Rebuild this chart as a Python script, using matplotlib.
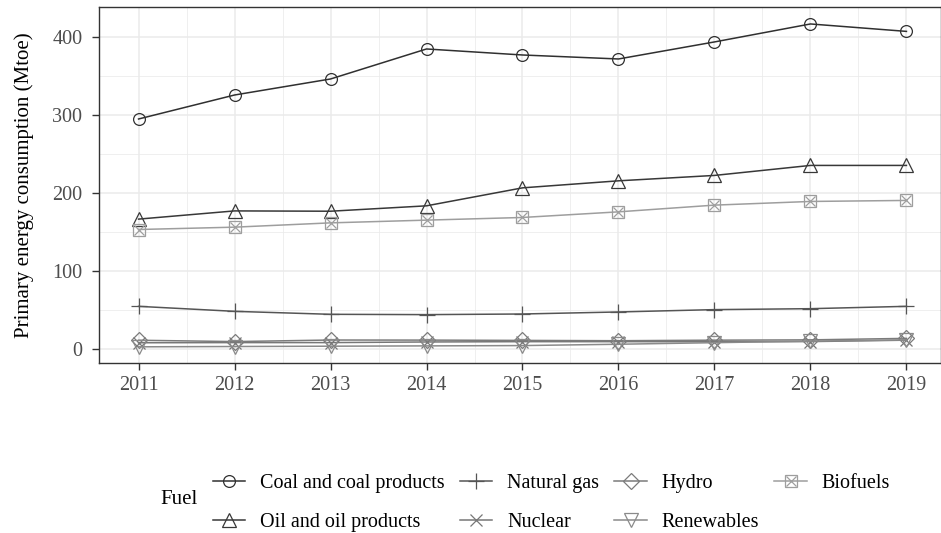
import numpy as np
import matplotlib.pyplot as plt
from matplotlib.lines import Line2D
from matplotlib.ticker import MultipleLocator

plt.rcParams['font.family'] = ['Liberation Serif', 'DejaVu Serif']

# Primary energy consumption by fuel (Mtoe)
years = [2011, 2012, 2013, 2014, 2015, 2016, 2017, 2018, 2019]
coal = [294.7, 325.4, 345.9, 384.3, 376.6, 371.5, 393.3, 416.3, 406.8]
oil = [166.6, 177.1, 176.7, 183.6, 206.6, 215.6, 222.5, 235.3, 235.3]
natural_gas = [55.0, 48.6, 44.8, 44.4, 45.2, 47.8, 50.8, 52.0, 55.0]
nuclear = [8.4, 8.6, 8.6, 9.4, 9.8, 9.8, 9.7, 9.9, 11.7]
hydro = [11.6, 9.9, 11.9, 11.8, 11.4, 11.0, 11.7, 12.1, 14.0]
renewables = [3.2, 3.6, 4.0, 4.4, 4.8, 6.5, 8.5, 10.5, 12.0]
biofuels = [153.3, 156.3, 161.8, 165.3, 168.7, 175.9, 184.5, 189.2, 190.5]

fig = plt.figure(figsize=(9.41, 5.33), dpi=100)
ax = fig.add_axes([99 / 941, 170 / 533, 842 / 941, 356 / 533])

mk = dict(markerfacecolor='none', markeredgewidth=0.9, linewidth=1.1)
h_coal, = ax.plot(years, coal, color='#303030', marker='o', markersize=8.5, **mk)
h_oil, = ax.plot(years, oil, color='#383838', marker='^', markersize=9.5, **mk)
h_gas, = ax.plot(years, natural_gas, color='#555555', marker='+', markersize=12, **mk)
h_nuc, = ax.plot(years, nuclear, color='#777777', marker='x', markersize=8, **mk)
h_hyd, = ax.plot(years, hydro, color='#7b7b7b', marker='D', markersize=8.5, **mk)
h_ren, = ax.plot(years, renewables, color='#8a8a8a', marker='v', markersize=9.5, **mk)
h_bio_sq, = ax.plot(years, biofuels, color='#9e9e9e', marker='s', markersize=8, **mk)
h_bio_x, = ax.plot(years, biofuels, color='#9e9e9e', marker='x', markersize=7,
                   linestyle='none', markeredgewidth=0.9)

ax.set_xlim(2010.588, 2019.36)
ax.set_ylim(-17.5, 438)
ax.xaxis.set_major_locator(MultipleLocator(1))
ax.xaxis.set_minor_locator(MultipleLocator(0.5))
ax.yaxis.set_major_locator(MultipleLocator(100))
ax.yaxis.set_minor_locator(MultipleLocator(50))
ax.grid(which='major', color='#ebebeb', linewidth=1.1)
ax.grid(which='minor', color='#ebebeb', linewidth=0.55)
ax.set_axisbelow(True)
ax.tick_params(which='major', length=5, width=1.0, color='#333333',
               labelsize=14.5, labelcolor='#4d4d4d', pad=4)
ax.tick_params(axis='y', pad=7)
ax.tick_params(which='minor', length=0)
for s in ax.spines.values():
    s.set_color('#333333')
    s.set_linewidth(1.0)
ax.set_ylabel('Primary energy consumption (Mtoe)', fontsize=15, labelpad=13)

handles = [h_coal, h_oil, h_gas, h_nuc, h_hyd, h_ren, (h_bio_sq, h_bio_x)]
labels = ['Coal and coal products', 'Oil and oil products', 'Natural gas',
          'Nuclear', 'Hydro', 'Renewables', 'Biofuels']
fig.legend(handles, labels, ncol=4, loc='center left',
           bbox_to_anchor=(213 / 941, 1 - 503 / 533), frameon=False,
           fontsize=14.5, handlelength=1.6, handletextpad=0.75,
           columnspacing=0.75, labelspacing=0.95, borderaxespad=0,
           borderpad=0)
fig.text(160 / 941, 1 - 500 / 533, 'Fuel', fontsize=15, va='center', ha='left')

fig.savefig('out.png', dpi=100)
